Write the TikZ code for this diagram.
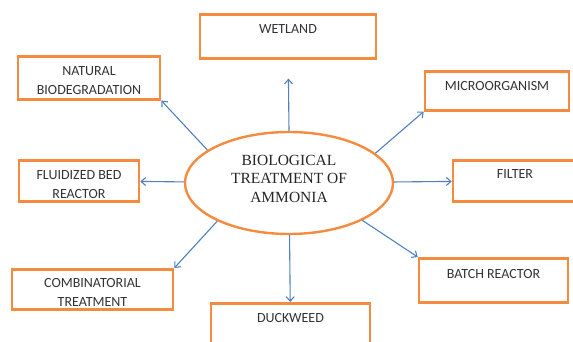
\documentclass[tikz,border=0pt]{standalone}
\usepackage{fontspec}
\newfontfamily\boxfont{Carlito}
\newfontfamily\ovalfont{Liberation Serif}
\usetikzlibrary{shapes,arrows.meta}
\definecolor{boxorange}{HTML}{F58B3F}
\definecolor{linkblue}{HTML}{4F81BD}
\tikzset{
  box/.style={draw=boxorange, line width=2.6pt, anchor=north, inner sep=0pt, align=center,
    text=black!80, font=\boxfont\fontsize{14}{19}\selectfont},
  oval/.style={draw=boxorange, line width=2.4pt, ellipse, inner sep=0pt, minimum width=208pt,
    minimum height=102pt, align=center, text=black!85, font=\ovalfont\fontsize{15.5}{18.5}\selectfont},
  link/.style={draw=linkblue, line width=1.1pt, -{Straight Barb[length=4.5pt,width=8pt]}}
}

\begin{document}
\begin{tikzpicture}[x=1pt,y=-1pt]
\useasboundingbox (0,0) rectangle (573,342);
\node[oval, text height=48pt, text depth=10pt] (bio) at (289,183) {BIOLOGICAL\\TREATMENT OF\\AMMONIA};
\node[box, minimum width=176pt, text height=19pt, text depth=25pt] (wetland) at (288,13) {WETLAND};
\node[box, minimum width=142pt, text height=38pt, text depth=5pt] (natural) at (89,55) {NATURAL\\BIODEGRADATION};
\node[box, minimum width=144pt, text height=19pt, text depth=20pt] (micro) at (497,70) {MICROORGANISM};
\node[box, minimum width=120pt, text height=38pt, text depth=3pt] (fluid) at (79,159) {FLUIDIZED BED\\REACTOR};
\node[box, minimum width=124pt, text height=18pt, text depth=23pt] (filter) at (515,159) {FILTER};
\node[box, minimum width=161pt, text height=37pt, text depth=3pt] (comb) at (92.5,268) {COMBINATORIAL\\TREATMENT};
\node[box, minimum width=149pt, text height=20pt, text depth=24pt] (batch) at (493.5,257) {BATCH REACTOR};
\node[box, minimum width=159pt, text height=19pt, text depth=31pt] (duck) at (290.5,302) {DUCKWEED};
\path (bio.north) edge[link, shorten >=19pt] (wetland)
(bio.158) edge[link] (natural.south east)
(bio.19) edge[link] (micro.south west)
(bio) edge[link] (fluid)
(bio) edge[link] (filter)
(bio.208) edge[link] (comb.north east)
(bio.333) edge[link] (batch.north west)
(bio) edge[link] (duck);
\end{tikzpicture}
\end{document}
